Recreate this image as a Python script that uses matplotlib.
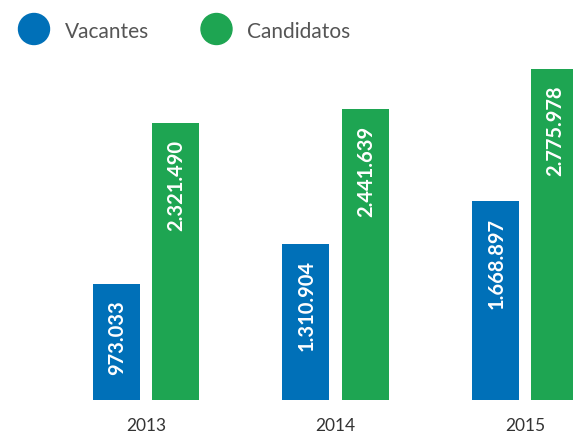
import matplotlib
matplotlib.use("Agg")
import matplotlib.pyplot as plt
from matplotlib.patches import Circle
import numpy as np

years = ["2013", "2014", "2015"]
series = ["Vacantes", "Candidatos"]
vacantes = [973033, 1310904, 1668897]
candidatos = [2321490, 2441639, 2775978]
value_labels_vac = ["973.033", "1.310.904", "1.668.897"]
value_labels_cand = ["2.321.490", "2.441.639", "2.775.978"]

colors = ["#0070B8", "#1EA552"]
W, H = 573, 433

plt.rcParams['font.family'] = ['Lato', 'DejaVu Sans']
fig = plt.figure(figsize=(W / 100, H / 100), dpi=100)
ax = fig.add_axes([0, 33 / H, 1, 1 - 33 / H])

x = np.arange(len(years))
bw = 0.248
off = 0.156
b1 = ax.bar(x - off, vacantes, bw, color=colors[0])
b2 = ax.bar(x + off, candidatos, bw, color=colors[1])

for bars, labels in ((b1, value_labels_vac), (b2, value_labels_cand)):
    for rect, lab in zip(bars, labels):
        ax.annotate(lab, (rect.get_x() + rect.get_width() / 2, rect.get_height()),
                    xytext=(0.8, -12), textcoords='offset points',
                    rotation=90, ha='center', va='top', color='white',
                    fontsize=14.5, fontweight='bold')

ax.set_xlim(-146 / 189.5, (573 - 146) / 189.5)
ax.set_ylim(0, 400 * 8390)
ax.set_xticks(x)
ax.set_xticklabels(years, fontsize=12.5, color='#333333')
ax.tick_params(axis='x', length=0, pad=13)
ax.set_yticks([])
for s in ax.spines.values():
    s.set_visible(False)

# legend
leg_pos = [(34, 65), (216.5, 247)]
for (cx, tx), name, c in zip(leg_pos, series, colors):
    fig.add_artist(Circle((cx, H - 29), 15.5, transform=None, color=c))
    fig.text(tx / W, 1 - 32 / H, name, fontsize=15, color='#555555',
             ha='left', va='center')

fig.savefig("out.png", dpi=100)
